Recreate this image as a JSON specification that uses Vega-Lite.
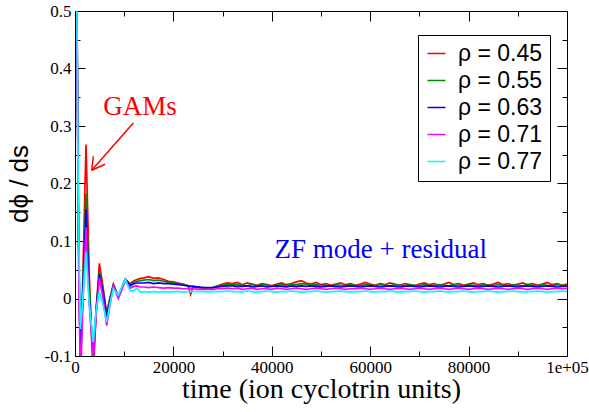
{
  "$schema": "https://vega.github.io/schema/vega-lite/v6.json",
  "width": 492,
  "height": 345,
  "autosize": "none",
  "padding": {"left": 75, "top": 11, "right": 22, "bottom": 56},
  "background": "white",
  "config": {
    "view": {"stroke": "black", "strokeWidth": 1},
    "axis": {"grid": false, "domainColor": "black", "tickColor": "black", "labelColor": "black", "titleColor": "black", "tickWidth": 1, "domainWidth": 1}
  },
  "layer": [
    {
      "data": {"values": [
        {"t": 0, "r45": 0.9, "r55": 0.9, "r63": 0.9, "r71": 0.9, "r77": 0.9},
        {"t": 300, "r45": 0.62, "r55": 0.6, "r63": 0.6, "r71": 0.58, "r77": 0.6},
        {"t": 700, "r45": 0.15, "r55": 0.12, "r63": 0.12, "r71": 0.08, "r77": 0.14},
        {"t": 1100, "r45": -0.13, "r55": -0.12, "r63": -0.12, "r71": -0.15, "r77": -0.053},
        {"t": 1600, "r45": 0.04, "r55": 0.02, "r63": 0.01, "r71": -0.01, "r77": 0.0},
        {"t": 2240, "r45": 0.268, "r55": 0.183, "r63": 0.155, "r71": 0.124, "r77": 0.08},
        {"t": 2900, "r45": 0.04, "r55": 0.02, "r63": 0.0, "r71": -0.01, "r77": -0.01},
        {"t": 3700, "r45": -0.14, "r55": -0.11, "r63": -0.095, "r71": -0.105, "r77": -0.076},
        {"t": 4300, "r45": -0.02, "r55": -0.02, "r63": -0.02, "r71": -0.03, "r77": -0.02},
        {"t": 4950, "r45": 0.061, "r55": 0.046, "r63": 0.042, "r71": 0.036, "r77": 0.012},
        {"t": 5700, "r45": 0.02, "r55": 0.012, "r63": 0.01, "r71": 0.0, "r77": -0.012},
        {"t": 6440, "r45": -0.025, "r55": -0.03, "r63": -0.032, "r71": -0.047, "r77": -0.041},
        {"t": 7100, "r45": 0.0, "r55": 0.0, "r63": -0.005, "r71": -0.012, "r77": -0.01},
        {"t": 7800, "r45": 0.025, "r55": 0.023, "r63": 0.022, "r71": 0.022, "r77": 0.017},
        {"t": 8800, "r45": 0.004, "r55": 0.004, "r63": 0.003, "r71": 0.0, "r77": 0.006},
        {"t": 9500, "r45": 0.018, "r55": 0.018, "r63": 0.018, "r71": 0.015, "r77": 0.02},
        {"t": 10200, "r45": 0.034, "r55": 0.033, "r63": 0.033, "r71": 0.031, "r77": 0.034},
        {"t": 11200, "r45": 0.026, "r55": 0.024, "r63": 0.022, "r71": 0.018, "r77": 0.013},
        {"t": 12000, "r45": 0.031, "r55": 0.029, "r63": 0.026, "r71": 0.021, "r77": 0.014},
        {"t": 12600, "r45": 0.033, "r55": 0.03, "r63": 0.027, "r71": 0.022, "r77": 0.018},
        {"t": 13300, "r45": 0.035, "r55": 0.031, "r63": 0.027, "r71": 0.02, "r77": 0.011},
        {"t": 14000, "r45": 0.036, "r55": 0.032, "r63": 0.027, "r71": 0.02, "r77": 0.012},
        {"t": 15000, "r45": 0.038, "r55": 0.033, "r63": 0.028, "r71": 0.019, "r77": 0.011},
        {"t": 16000, "r45": 0.035, "r55": 0.031, "r63": 0.026, "r71": 0.02, "r77": 0.012},
        {"t": 17000, "r45": 0.036, "r55": 0.032, "r63": 0.027, "r71": 0.019, "r77": 0.011},
        {"t": 18000, "r45": 0.033, "r55": 0.03, "r63": 0.026, "r71": 0.018, "r77": 0.012},
        {"t": 19000, "r45": 0.03, "r55": 0.028, "r63": 0.026, "r71": 0.019, "r77": 0.011},
        {"t": 20000, "r45": 0.029, "r55": 0.027, "r63": 0.025, "r71": 0.018, "r77": 0.012},
        {"t": 21000, "r45": 0.027, "r55": 0.026, "r63": 0.024, "r71": 0.018, "r77": 0.012},
        {"t": 22000, "r45": 0.025, "r55": 0.024, "r63": 0.023, "r71": 0.017, "r77": 0.011},
        {"t": 23000, "r45": 0.022, "r55": 0.022, "r63": 0.022, "r71": 0.017, "r77": 0.012},
        {"t": 23500, "r45": 0.007, "r55": 0.021, "r63": 0.021, "r71": 0.017, "r77": 0.012},
        {"t": 24000, "r45": 0.02, "r55": 0.021, "r63": 0.021, "r71": 0.017, "r77": 0.012},
        {"t": 25000, "r45": 0.019, "r55": 0.02, "r63": 0.02, "r71": 0.016, "r77": 0.012},
        {"t": 26000, "r45": 0.018, "r55": 0.019, "r63": 0.019, "r71": 0.016, "r77": 0.012},
        {"t": 27000, "r45": 0.018, "r55": 0.018, "r63": 0.019, "r71": 0.016, "r77": 0.011},
        {"t": 28000, "r45": 0.019, "r55": 0.019, "r63": 0.019, "r71": 0.016, "r77": 0.012},
        {"t": 29000, "r45": 0.022, "r55": 0.021, "r63": 0.02, "r71": 0.017, "r77": 0.012},
        {"t": 30000, "r45": 0.025, "r55": 0.023, "r63": 0.021, "r71": 0.017, "r77": 0.012},
        {"t": 31000, "r45": 0.027, "r55": 0.024, "r63": 0.022, "r71": 0.018, "r77": 0.013},
        {"t": 32000, "r45": 0.026, "r55": 0.025, "r63": 0.022, "r71": 0.017, "r77": 0.012},
        {"t": 33000, "r45": 0.028, "r55": 0.024, "r63": 0.021, "r71": 0.018, "r77": 0.012},
        {"t": 34000, "r45": 0.024, "r55": 0.023, "r63": 0.021, "r71": 0.016, "r77": 0.011},
        {"t": 35000, "r45": 0.027, "r55": 0.022, "r63": 0.022, "r71": 0.017, "r77": 0.013},
        {"t": 36000, "r45": 0.025, "r55": 0.024, "r63": 0.02, "r71": 0.018, "r77": 0.012},
        {"t": 37000, "r45": 0.023, "r55": 0.022, "r63": 0.021, "r71": 0.016, "r77": 0.011},
        {"t": 38000, "r45": 0.026, "r55": 0.025, "r63": 0.022, "r71": 0.017, "r77": 0.012},
        {"t": 39000, "r45": 0.024, "r55": 0.023, "r63": 0.02, "r71": 0.017, "r77": 0.013},
        {"t": 40000, "r45": 0.022, "r55": 0.022, "r63": 0.021, "r71": 0.016, "r77": 0.012},
        {"t": 41000, "r45": 0.025, "r55": 0.023, "r63": 0.022, "r71": 0.018, "r77": 0.011},
        {"t": 42000, "r45": 0.027, "r55": 0.024, "r63": 0.021, "r71": 0.017, "r77": 0.012},
        {"t": 43000, "r45": 0.024, "r55": 0.022, "r63": 0.02, "r71": 0.016, "r77": 0.012},
        {"t": 44000, "r45": 0.026, "r55": 0.025, "r63": 0.022, "r71": 0.017, "r77": 0.013},
        {"t": 45000, "r45": 0.029, "r55": 0.024, "r63": 0.021, "r71": 0.018, "r77": 0.012},
        {"t": 46000, "r45": 0.031, "r55": 0.026, "r63": 0.022, "r71": 0.017, "r77": 0.011},
        {"t": 47000, "r45": 0.027, "r55": 0.025, "r63": 0.021, "r71": 0.016, "r77": 0.012},
        {"t": 48000, "r45": 0.025, "r55": 0.023, "r63": 0.022, "r71": 0.017, "r77": 0.012},
        {"t": 49000, "r45": 0.028, "r55": 0.024, "r63": 0.021, "r71": 0.018, "r77": 0.013},
        {"t": 50000, "r45": 0.024, "r55": 0.022, "r63": 0.02, "r71": 0.017, "r77": 0.012},
        {"t": 51000, "r45": 0.026, "r55": 0.023, "r63": 0.021, "r71": 0.016, "r77": 0.011},
        {"t": 52000, "r45": 0.023, "r55": 0.022, "r63": 0.022, "r71": 0.017, "r77": 0.012},
        {"t": 53000, "r45": 0.025, "r55": 0.024, "r63": 0.021, "r71": 0.018, "r77": 0.012},
        {"t": 54000, "r45": 0.027, "r55": 0.023, "r63": 0.02, "r71": 0.017, "r77": 0.013},
        {"t": 55000, "r45": 0.024, "r55": 0.022, "r63": 0.021, "r71": 0.016, "r77": 0.012},
        {"t": 56000, "r45": 0.026, "r55": 0.024, "r63": 0.022, "r71": 0.017, "r77": 0.011},
        {"t": 57000, "r45": 0.023, "r55": 0.023, "r63": 0.021, "r71": 0.017, "r77": 0.012},
        {"t": 58000, "r45": 0.025, "r55": 0.022, "r63": 0.02, "r71": 0.018, "r77": 0.012},
        {"t": 59000, "r45": 0.028, "r55": 0.024, "r63": 0.021, "r71": 0.017, "r77": 0.013},
        {"t": 60000, "r45": 0.025, "r55": 0.023, "r63": 0.022, "r71": 0.016, "r77": 0.012},
        {"t": 61000, "r45": 0.023, "r55": 0.022, "r63": 0.021, "r71": 0.017, "r77": 0.011},
        {"t": 62000, "r45": 0.026, "r55": 0.024, "r63": 0.02, "r71": 0.018, "r77": 0.012},
        {"t": 63000, "r45": 0.024, "r55": 0.023, "r63": 0.021, "r71": 0.017, "r77": 0.012},
        {"t": 64000, "r45": 0.027, "r55": 0.022, "r63": 0.022, "r71": 0.016, "r77": 0.013},
        {"t": 65000, "r45": 0.025, "r55": 0.024, "r63": 0.021, "r71": 0.017, "r77": 0.012},
        {"t": 66000, "r45": 0.023, "r55": 0.023, "r63": 0.02, "r71": 0.018, "r77": 0.011},
        {"t": 67000, "r45": 0.026, "r55": 0.022, "r63": 0.021, "r71": 0.017, "r77": 0.012},
        {"t": 68000, "r45": 0.024, "r55": 0.024, "r63": 0.022, "r71": 0.016, "r77": 0.012},
        {"t": 69000, "r45": 0.022, "r55": 0.023, "r63": 0.021, "r71": 0.017, "r77": 0.013},
        {"t": 70000, "r45": 0.025, "r55": 0.022, "r63": 0.02, "r71": 0.018, "r77": 0.012},
        {"t": 71000, "r45": 0.027, "r55": 0.024, "r63": 0.021, "r71": 0.017, "r77": 0.011},
        {"t": 72000, "r45": 0.024, "r55": 0.023, "r63": 0.022, "r71": 0.016, "r77": 0.012},
        {"t": 73000, "r45": 0.026, "r55": 0.022, "r63": 0.021, "r71": 0.017, "r77": 0.012},
        {"t": 74000, "r45": 0.023, "r55": 0.024, "r63": 0.02, "r71": 0.018, "r77": 0.013},
        {"t": 75000, "r45": 0.025, "r55": 0.023, "r63": 0.021, "r71": 0.017, "r77": 0.012},
        {"t": 76000, "r45": 0.028, "r55": 0.022, "r63": 0.022, "r71": 0.016, "r77": 0.011},
        {"t": 77000, "r45": 0.024, "r55": 0.024, "r63": 0.021, "r71": 0.017, "r77": 0.012},
        {"t": 78000, "r45": 0.026, "r55": 0.023, "r63": 0.02, "r71": 0.018, "r77": 0.012},
        {"t": 79000, "r45": 0.023, "r55": 0.022, "r63": 0.021, "r71": 0.017, "r77": 0.013},
        {"t": 80000, "r45": 0.025, "r55": 0.024, "r63": 0.022, "r71": 0.016, "r77": 0.012},
        {"t": 81000, "r45": 0.027, "r55": 0.023, "r63": 0.021, "r71": 0.017, "r77": 0.011},
        {"t": 82000, "r45": 0.024, "r55": 0.022, "r63": 0.02, "r71": 0.018, "r77": 0.012},
        {"t": 83000, "r45": 0.026, "r55": 0.024, "r63": 0.021, "r71": 0.017, "r77": 0.012},
        {"t": 84000, "r45": 0.023, "r55": 0.023, "r63": 0.022, "r71": 0.016, "r77": 0.013},
        {"t": 85000, "r45": 0.025, "r55": 0.022, "r63": 0.021, "r71": 0.017, "r77": 0.012},
        {"t": 86000, "r45": 0.028, "r55": 0.024, "r63": 0.02, "r71": 0.018, "r77": 0.011},
        {"t": 87000, "r45": 0.024, "r55": 0.023, "r63": 0.021, "r71": 0.017, "r77": 0.012},
        {"t": 88000, "r45": 0.026, "r55": 0.022, "r63": 0.022, "r71": 0.016, "r77": 0.012},
        {"t": 89000, "r45": 0.023, "r55": 0.024, "r63": 0.021, "r71": 0.017, "r77": 0.013},
        {"t": 90000, "r45": 0.025, "r55": 0.023, "r63": 0.02, "r71": 0.018, "r77": 0.012},
        {"t": 91000, "r45": 0.027, "r55": 0.022, "r63": 0.021, "r71": 0.017, "r77": 0.011},
        {"t": 92000, "r45": 0.024, "r55": 0.024, "r63": 0.022, "r71": 0.016, "r77": 0.012},
        {"t": 93000, "r45": 0.026, "r55": 0.023, "r63": 0.021, "r71": 0.017, "r77": 0.012},
        {"t": 94000, "r45": 0.023, "r55": 0.022, "r63": 0.02, "r71": 0.018, "r77": 0.013},
        {"t": 95000, "r45": 0.025, "r55": 0.024, "r63": 0.021, "r71": 0.017, "r77": 0.012},
        {"t": 96000, "r45": 0.028, "r55": 0.023, "r63": 0.022, "r71": 0.016, "r77": 0.011},
        {"t": 97000, "r45": 0.024, "r55": 0.022, "r63": 0.021, "r71": 0.017, "r77": 0.012},
        {"t": 98000, "r45": 0.026, "r55": 0.024, "r63": 0.02, "r71": 0.018, "r77": 0.012},
        {"t": 99000, "r45": 0.023, "r55": 0.023, "r63": 0.021, "r71": 0.017, "r77": 0.013},
        {"t": 100000, "r45": 0.025, "r55": 0.022, "r63": 0.021, "r71": 0.017, "r77": 0.012}
      ]},
      "transform": [{"fold": ["r45", "r55", "r63", "r71", "r77"], "as": ["series", "v"]}],
      "mark": {"type": "line", "clip": true, "strokeWidth": 1.7},
      "encoding": {
        "x": {"field": "t", "type": "quantitative",
          "scale": {"domain": [0, 100000], "nice": false, "zero": false},
          "axis": {"orient": "bottom", "values": [0, 20000, 40000, 60000, 80000, 100000], "tickSize": -10,
            "labelExpr": "datum.value == 100000 ? '1e+05' : toString(datum.value)",
            "labelFont": "Liberation Serif", "labelFontSize": 17, "labelPadding": 13, "labelFlush": false, "labelOverlap": false,
            "title": "time (ion cyclotrin units)", "titleFont": "Liberation Serif", "titleFontSize": 28, "titleFontWeight": "normal", "titlePadding": 0}},
        "y": {"field": "v", "type": "quantitative",
          "scale": {"domain": [-0.1, 0.5], "nice": false, "zero": false},
          "axis": {"orient": "left", "values": [-0.1, 0, 0.1, 0.2, 0.3, 0.4, 0.5], "tickSize": -10,
            "labelExpr": "toString(datum.value)",
            "labelFont": "Liberation Serif", "labelFontSize": 17, "labelPadding": 14, "labelOverlap": false,
            "title": "dϕ / ds", "titleFont": "Liberation Sans", "titleFontSize": 26, "titleFontWeight": "normal", "titlePadding": 12}},
        "color": {"field": "series", "type": "nominal",
          "scale": {"domain": ["r45", "r55", "r63", "r71", "r77"], "range": ["#ff0000", "#008b00", "#0000ff", "#ff00ff", "#00ffff"]},
          "legend": {"orient": "none", "legendX": 343, "legendY": 24, "title": null,
            "labelExpr": "datum.label == 'r45' ? 'ρ = 0.45' : datum.label == 'r55' ? 'ρ = 0.55' : datum.label == 'r63' ? 'ρ = 0.63' : datum.label == 'r71' ? 'ρ = 0.71' : 'ρ = 0.77'",
            "labelFont": "Liberation Sans", "labelFontSize": 23, "labelColor": "black", "labelOffset": 10,
            "symbolType": "stroke", "symbolSize": 324, "symbolStrokeWidth": 1.5,
            "rowPadding": 3, "padding": 7, "strokeColor": "black", "fillColor": "white", "cornerRadius": 0}}
      }
    },
    {
      "data": {"values": [{"t": 13220, "v": 0.319, "label": "GAMs"}]},
      "mark": {"type": "text", "font": "Liberation Serif", "fontSize": 27, "color": "#ff0000", "align": "center", "baseline": "alphabetic"},
      "encoding": {
        "x": {"field": "t", "type": "quantitative", "scale": {"domain": [0, 100000], "nice": false, "zero": false}, "axis": null},
        "y": {"field": "v", "type": "quantitative", "scale": {"domain": [-0.1, 0.5], "nice": false, "zero": false}, "axis": null},
        "text": {"field": "label"}
      }
    },
    {
      "data": {"values": [{"t": 62140, "v": 0.0697, "label": "ZF mode + residual"}]},
      "mark": {"type": "text", "font": "Liberation Serif", "fontSize": 27, "color": "#0000ff", "align": "center", "baseline": "alphabetic"},
      "encoding": {
        "x": {"field": "t", "type": "quantitative", "scale": {"domain": [0, 100000], "nice": false, "zero": false}, "axis": null},
        "y": {"field": "v", "type": "quantitative", "scale": {"domain": [-0.1, 0.5], "nice": false, "zero": false}, "axis": null},
        "text": {"field": "label"}
      }
    },
    {
      "data": {"values": [
        {"t": 3397, "v": 0.223, "t2": 11858, "v2": 0.3054},
        {"t": 3397, "v": 0.223, "t2": 3722, "v2": 0.2474},
        {"t": 3397, "v": 0.223, "t2": 6102, "v2": 0.2334}
      ]},
      "mark": {"type": "rule", "color": "#ff0000", "strokeWidth": 1.5},
      "encoding": {
        "x": {"field": "t", "type": "quantitative", "scale": {"domain": [0, 100000], "nice": false, "zero": false}, "axis": null},
        "y": {"field": "v", "type": "quantitative", "scale": {"domain": [-0.1, 0.5], "nice": false, "zero": false}, "axis": null},
        "x2": {"field": "t2"},
        "y2": {"field": "v2"}
      }
    },
    {
      "data": {"values": [{"t": 0, "v": 0}]},
      "mark": {"type": "point", "opacity": 0},
      "encoding": {
        "x": {"field": "t", "type": "quantitative", "scale": {"domain": [0, 100000], "nice": false, "zero": false},
          "axis": {"orient": "bottom", "values": [10000, 30000, 50000, 70000, 90000], "tickSize": -5, "labels": false, "domain": false, "title": null}},
        "y": {"field": "v", "type": "quantitative", "scale": {"domain": [-0.1, 0.5], "nice": false, "zero": false},
          "axis": {"orient": "left", "values": [-0.05, 0.05, 0.15, 0.25, 0.35, 0.45], "tickSize": -5, "labels": false, "domain": false, "title": null}}
      }
    },
    {
      "data": {"values": [{"t": 0, "v": 0}]},
      "mark": {"type": "point", "opacity": 0},
      "encoding": {
        "x": {"field": "t", "type": "quantitative", "scale": {"domain": [0, 100000], "nice": false, "zero": false},
          "axis": {"orient": "top", "values": [0, 20000, 40000, 60000, 80000, 100000], "tickSize": -10, "labels": false, "domain": true, "title": null}},
        "y": {"field": "v", "type": "quantitative", "scale": {"domain": [-0.1, 0.5], "nice": false, "zero": false},
          "axis": {"orient": "right", "values": [-0.1, 0, 0.1, 0.2, 0.3, 0.4, 0.5], "tickSize": -10, "labels": false, "domain": true, "title": null}}
      }
    },
    {
      "data": {"values": [{"t": 0, "v": 0}]},
      "mark": {"type": "point", "opacity": 0},
      "encoding": {
        "x": {"field": "t", "type": "quantitative", "scale": {"domain": [0, 100000], "nice": false, "zero": false},
          "axis": {"orient": "top", "values": [10000, 30000, 50000, 70000, 90000], "tickSize": -5, "labels": false, "domain": false, "title": null}},
        "y": {"field": "v", "type": "quantitative", "scale": {"domain": [-0.1, 0.5], "nice": false, "zero": false},
          "axis": {"orient": "right", "values": [-0.05, 0.05, 0.15, 0.25, 0.35, 0.45], "tickSize": -5, "labels": false, "domain": false, "title": null}}
      }
    }
  ],
  "resolve": {"axis": {"x": "independent", "y": "independent"}}
}
